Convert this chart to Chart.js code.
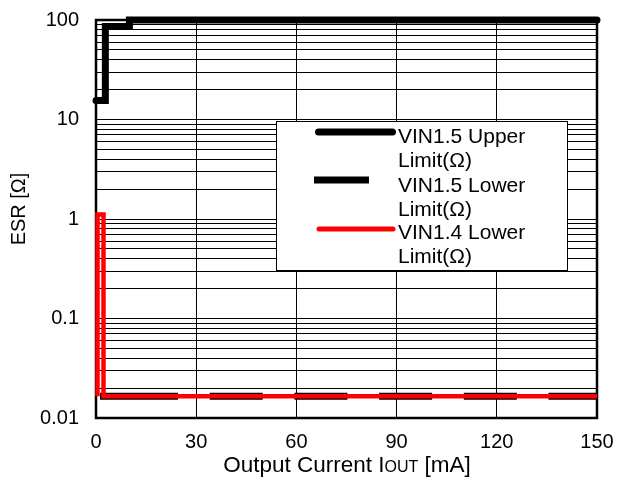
<!DOCTYPE html>
<html>
<head>
<meta charset="utf-8">
<script src="https://cdn.jsdelivr.net/npm/chart.js@4"></script>
<style>
  html, body { margin: 0; padding: 0; background: #fff; }
  #wrap { width: 618px; height: 477px; position: relative; }
</style>
</head>
<body>
<div id="wrap"><canvas id="chart"></canvas></div>
<script>
// ESR vs output current, stable region limits
const upperX = [0, 2.8, 2.8, 10, 10, 150];
const upperY = [15.5, 15.5, 86, 86, 100, 100];

const lowerX = [1.2, 150];
const lowerY = [0.0165, 0.0165];

const vin14X = [0.45, 0.45, 2.25, 2.25, 150];
const vin14Y = [0.0165, 1.11, 1.11, 0.0165, 0.0165];

const xTicks = [0, 30, 60, 90, 120, 150];
const yTickLabels = [0.01, 0.1, 1, 10, 100];

const legendLabels = [
  ["VIN1.5 Upper", "Limit(Ω)"],
  ["VIN1.5 Lower", "Limit(Ω)"],
  ["VIN1.4 Lower", "Limit(Ω)"]
];

const FONT = "'Liberation Sans', Arial, sans-serif";

const toPoints = (xs, ys) => xs.map((x, i) => ({ x: x, y: ys[i] }));

// plot frame + custom two-line legend + axis titles
const decorPlugin = {
  id: "decor",
  beforeDatasetsDraw(chart) {
    const { ctx, chartArea: a } = chart;
    ctx.save();
    ctx.strokeStyle = "#000";
    ctx.lineWidth = 2.5;
    ctx.strokeRect(a.left, a.top, a.right - a.left, a.bottom - a.top);
    ctx.restore();
  },
  afterDraw(chart) {
    const ctx = chart.ctx;
    ctx.save();

    // legend box
    ctx.fillStyle = "#fff";
    ctx.fillRect(276.5, 121.5, 291, 149);
    ctx.strokeStyle = "#000";
    ctx.lineWidth = 1;
    ctx.strokeRect(276.5, 121.5, 291, 149);

    const samples = [
      { y: 132, x0: 318.5, x1: 392.5, w: 7, cap: "round", color: "#000" },
      { y: 180, x0: 314, x1: 369, w: 7, cap: "butt", color: "#000" },
      { y: 229, x0: 319, x1: 393, w: 5, cap: "round", color: "#ff0000" }
    ];
    const baselines = [142.5, 191.5, 238.5];
    samples.forEach((s, i) => {
      ctx.beginPath();
      ctx.strokeStyle = s.color;
      ctx.lineWidth = s.w;
      ctx.lineCap = s.cap;
      ctx.moveTo(s.x0, s.y);
      ctx.lineTo(s.x1, s.y);
      ctx.stroke();

      ctx.fillStyle = "#000";
      ctx.font = "21px " + FONT;
      ctx.textAlign = "left";
      ctx.textBaseline = "alphabetic";
      ctx.fillText(legendLabels[i][0], 398, baselines[i]);
      ctx.fillText(legendLabels[i][1], 398, baselines[i] + 24.5);
    });

    // x axis title with small-caps "OUT"
    const parts = [
      { t: "Output Current I", size: 22.5 },
      { t: "OUT", size: 16 },
      { t: " [mA]", size: 22.5 }
    ];
    let total = 0;
    parts.forEach(p => {
      ctx.font = p.size + "px " + FONT;
      p.w = ctx.measureText(p.t).width;
      total += p.w;
    });
    let x = 347 - total / 2;
    ctx.fillStyle = "#000";
    ctx.textAlign = "left";
    parts.forEach(p => {
      ctx.font = p.size + "px " + FONT;
      ctx.fillText(p.t, x, 472);
      x += p.w;
    });

    // y axis title
    ctx.translate(25, 209);
    ctx.rotate(-Math.PI / 2);
    ctx.font = "20px " + FONT;
    ctx.textAlign = "center";
    ctx.fillText("ESR [Ω]", 0, 0);

    ctx.restore();
  }
};

new Chart(document.getElementById("chart"), {
  type: "line",
  data: {
    datasets: [
      {
        label: "VIN1.5 Upper Limit(Ω)",
        data: toPoints(upperX, upperY),
        borderColor: "#000",
        borderWidth: 7,
        borderCapStyle: "round",
        borderJoinStyle: "miter",
        pointRadius: 0,
        clip: false,
        order: 1
      },
      {
        label: "VIN1.5 Lower Limit(Ω)",
        data: toPoints(lowerX, lowerY),
        borderColor: "#000",
        borderWidth: 7,
        borderDash: [78, 31.7, 53, 31.7, 53, 31.7, 53, 31.7, 53, 31.7, 53, 31.7],
        pointRadius: 0,
        clip: false,
        order: 2
      },
      {
        label: "VIN1.4 Lower Limit(Ω)",
        data: toPoints(vin14X, vin14Y),
        borderColor: "#ff0000",
        borderWidth: 4.5,
        borderJoinStyle: "miter",
        pointRadius: 0,
        clip: false,
        order: 0
      }
    ]
  },
  options: {
    responsive: true,
    maintainAspectRatio: false,
    animation: false,
    events: [],
    layout: { padding: { top: 20, right: 21, left: 0, bottom: 0 } },
    plugins: {
      legend: { display: false },
      tooltip: { enabled: false }
    },
    elements: { line: { tension: 0 } },
    scales: {
      x: {
        type: "linear",
        min: 0,
        max: 150,
        afterBuildTicks: axis => { axis.ticks = xTicks.map(v => ({ value: v })); },
        afterFit: axis => { axis.height = 59; },
        grid: { color: "#000", lineWidth: 1, drawTicks: true, tickLength: 12, tickColor: "rgba(0,0,0,0)" },
        border: { display: false },
        ticks: {
          color: "#000",
          padding: 0,
          maxRotation: 0,
          font: { family: FONT, size: 20 }
        }
      },
      y: {
        type: "logarithmic",
        min: 0.01,
        max: 100,
        afterBuildTicks: axis => {
          const ticks = [];
          yTickLabels.forEach((d, i) => {
            if (i === yTickLabels.length - 1) { ticks.push({ value: d, major: true }); return; }
            for (let m = 1; m <= 9; m++) ticks.push({ value: +(m * d).toPrecision(3), major: m === 1 });
          });
          axis.ticks = ticks;
        },
        afterFit: axis => { axis.width = 96; },
        grid: { color: "#000", lineWidth: 1, drawTicks: true, tickLength: 17, tickColor: "rgba(0,0,0,0)" },
        border: { display: false },
        ticks: {
          autoSkip: false,
          color: "#000",
          padding: 0,
          font: { family: FONT, size: 20 },
          callback: v => (yTickLabels.includes(v) ? String(v) : "")
        }
      }
    }
  },
  plugins: [decorPlugin]
});
</script>
</body>
</html>
